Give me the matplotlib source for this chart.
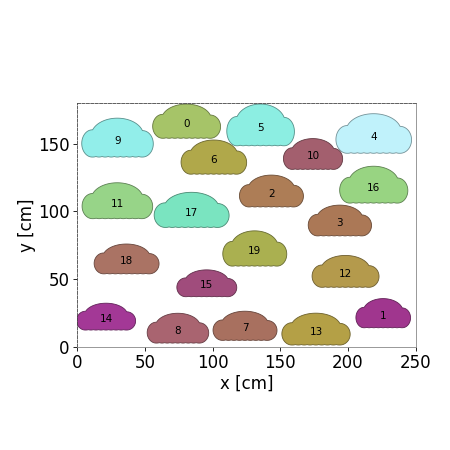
import numpy as np
import matplotlib
matplotlib.use("Agg")
import matplotlib.pyplot as plt
from matplotlib.colors import to_rgb

# cloud label positions [cm] and cloud extents [cm]
ids = [0, 1, 2, 3, 4, 5, 6, 7, 8, 9, 10, 11, 12, 13, 14, 15, 16, 17, 18, 19]
xs = [80.9, 226.0, 143.5, 194.0, 219.0, 135.5, 101.0, 124.0, 74.5, 29.9,
      174.2, 29.8, 198.2, 176.4, 21.5, 95.8, 219.0, 84.6, 36.6, 131.2]
ys = [164.6, 23.2, 113.2, 91.5, 155.2, 161.4, 138.1, 13.9, 12.1, 152.2,
      140.6, 105.8, 53.9, 11.3, 20.8, 45.4, 117.6, 99.1, 63.2, 70.6]
widths = [50.1, 40.3, 47.2, 46.7, 55.8, 49.9, 48.4, 47.2, 45.4, 52.8,
          43.7, 52.1, 49.4, 50.4, 43.5, 44.2, 50.3, 55.3, 47.9, 47.2]
heights = [25.2, 21.5, 23.5, 22.7, 29.2, 30.8, 25.2, 21.5, 22.0, 28.7,
           22.7, 26.5, 23.5, 23.5, 19.8, 19.8, 27.2, 25.9, 22.0, 26.0]
colors = ['#a6c468', '#a0368e', '#ad7d56', '#ab7856', '#c0f2fb',
          '#8ceee2', '#b0a84a', '#a8705f', '#a96470', '#92eeea',
          '#a35f6e', '#97d488', '#b49a4c', '#b4a046', '#a33896',
          '#a04c7c', '#98d482', '#7ae4c0', '#aa7364', '#aab050']


def cloud_outline(n=700):
    # union of ellipses (cx, cy, a, b); template ~2 wide, 1 tall
    ell = [[-0.72, 0.35, 0.30, 0.35], [0.72, 0.34, 0.31, 0.34],
           [0.0, 0.55, 0.75, 0.45]]
    for bx in np.linspace(-0.7, 0.7, 9):
        ell.append([bx, 0.28, 0.28, 0.28])
    ell = np.array(ell)
    c0 = np.array([0.0, 0.45])
    th = np.linspace(0, 2 * np.pi, n)
    d = np.stack([np.cos(th), np.sin(th)], axis=1)
    s = ell[:, 2:4]
    q = (c0[None, :] - ell[:, :2]) / s
    e = d[:, None, :] / s[None, :, :]
    ee = (e ** 2).sum(axis=2)
    qe = (e * q[None, :, :]).sum(axis=2)
    qq = (q ** 2).sum(axis=1)[None, :]
    disc = qe ** 2 - ee * (qq - 1)
    t = np.where(disc >= 0, (-qe + np.sqrt(np.clip(disc, 0, None))) / ee, -np.inf)
    pts = c0 + d * t.max(axis=1)[:, None]
    x, y = pts[:, 0], pts[:, 1]
    u = (x - x.min()) / (x.max() - x.min()) - 0.5
    v = (y - y.min()) / (y.max() - y.min()) - 0.42
    return u, v


u, v = cloud_outline()

fig = plt.figure(figsize=(6, 6), dpi=75)
ax = fig.add_axes([0.171, 0.229, 0.753, 0.542])

for i in range(len(ids)):
    fc = np.array(to_rgb(colors[i]))
    ax.fill(xs[i] + u * widths[i], ys[i] + v * heights[i],
            facecolor=fc, edgecolor=fc * 0.6, linewidth=0.8)
    ax.text(xs[i], ys[i], str(ids[i]), ha='center', va='center', fontsize=10)

ax.set_xlim(0, 250)
ax.set_ylim(0, 180)
ax.set_aspect('equal')
ax.set_xticks([0, 50, 100, 150, 200, 250])
ax.set_yticks([0, 50, 100, 150])
ax.tick_params(labelsize=16)
ax.set_xlabel('x [cm]', fontsize=16, labelpad=2)
ax.set_ylabel('y [cm]', fontsize=16, labelpad=2)

for s in ['left', 'top']:
    ax.spines[s].set_linestyle('--')
    ax.spines[s].set_color('#444444')
    ax.spines[s].set_linewidth(0.8)
for s in ['right', 'bottom']:
    ax.spines[s].set_color('#888888')
    ax.spines[s].set_linewidth(0.8)

fig.savefig('out.png', dpi=75)
